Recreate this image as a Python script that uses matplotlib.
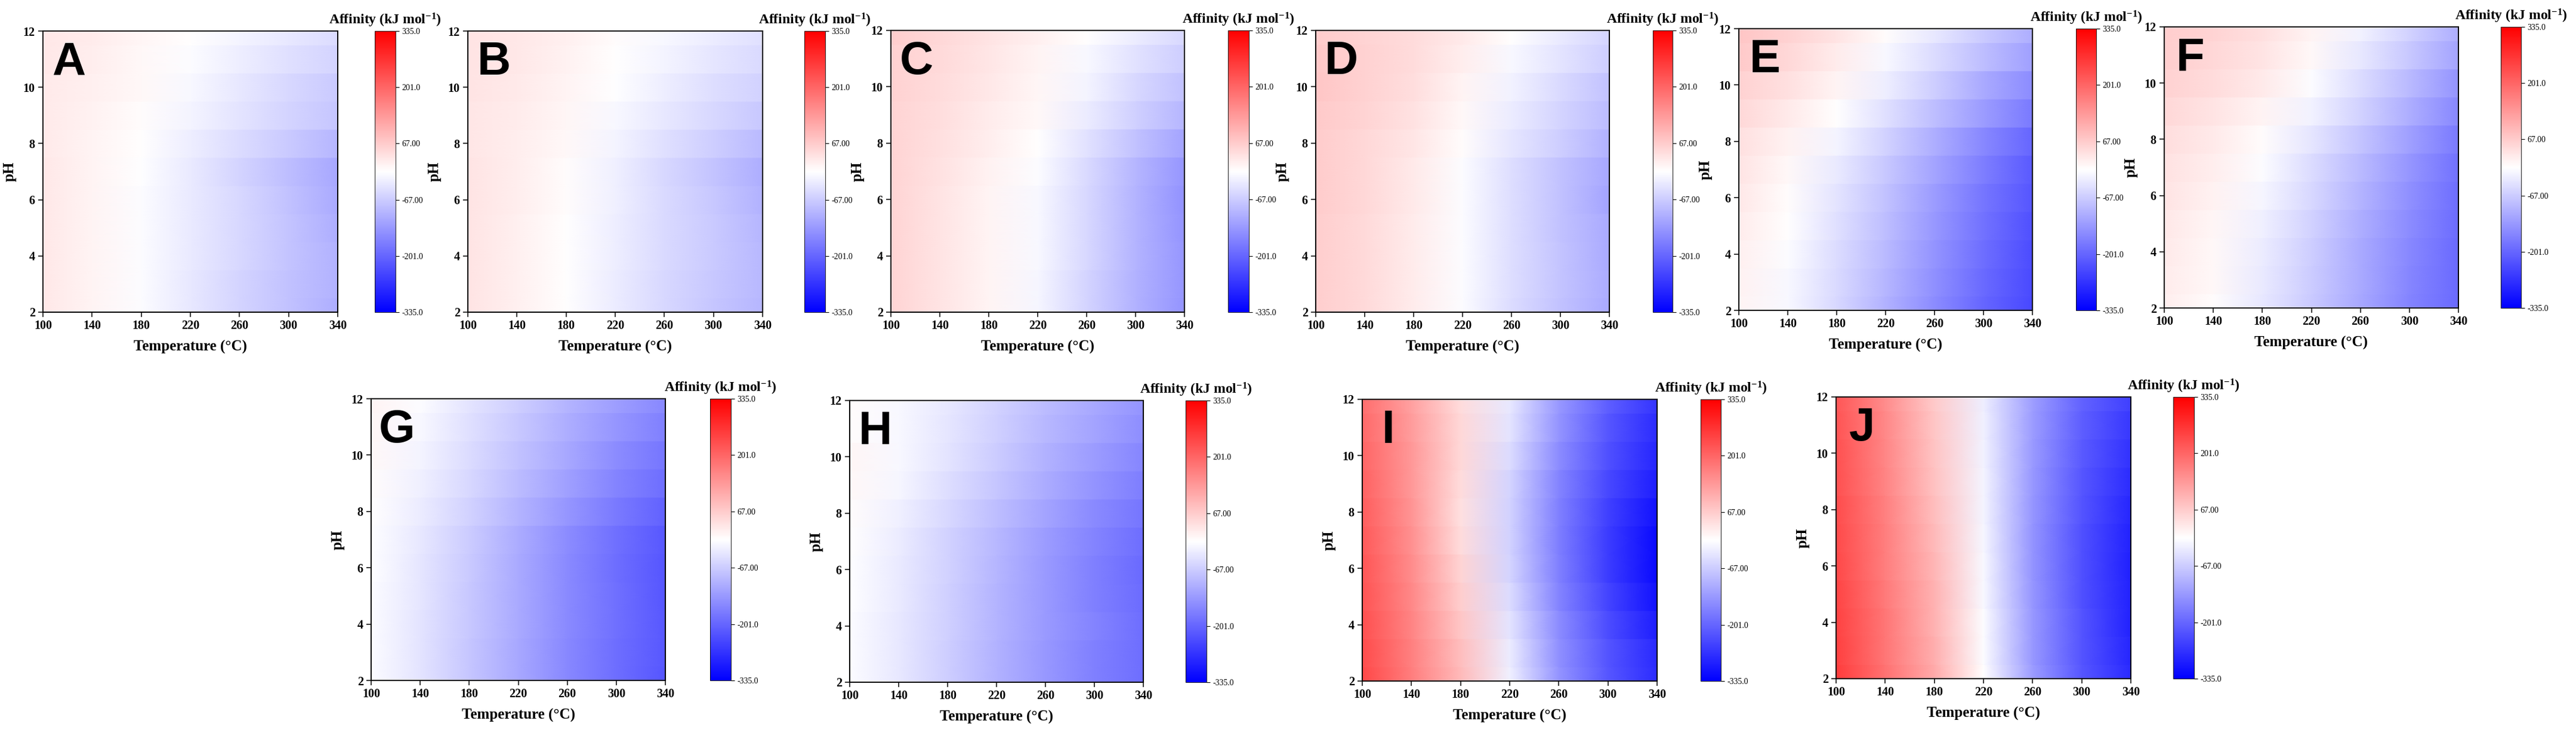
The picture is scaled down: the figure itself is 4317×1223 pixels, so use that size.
import numpy as np
import matplotlib.pyplot as plt

plt.rcParams['font.family'] = ['Liberation Serif', 'DejaVu Serif']
plt.rcParams['mathtext.fontset'] = 'custom'
plt.rcParams['mathtext.rm'] = 'Liberation Serif:bold'
plt.rcParams['mathtext.bf'] = 'Liberation Serif:bold'
plt.rcParams['mathtext.it'] = 'Liberation Serif:bold'

# grid: temperature (degC) columns, pH rows
temps = [100, 140, 180, 220, 260, 300, 340]
ph_levels = [2, 3, 4, 5, 6, 7, 8, 9, 10, 11, 12]

# affinity in kJ/mol, one row per pH (2 -> 12)
affinity_A = [
    [30, 15, -5, -30, -55, -80, -105],
    [30, 15, -5, -30, -55, -80, -100],
    [30, 15, -5, -28, -52, -78, -100],
    [30, 15, -5, -28, -52, -78, -105],
    [30, 15, -3, -28, -52, -80, -110],
    [30, 15, -2, -27, -55, -85, -115],
    [28, 15, 0, -22, -45, -70, -95],
    [28, 18, 5, -15, -35, -55, -75],
    [28, 20, 8, -10, -30, -50, -70],
    [30, 22, 10, -5, -22, -40, -55],
    [30, 25, 12, 0, -15, -30, -45],
]
affinity_B = [
    [35, 20, 0, -25, -50, -75, -95],
    [35, 20, 0, -25, -50, -72, -92],
    [35, 20, 2, -22, -48, -70, -92],
    [35, 20, 2, -22, -48, -70, -95],
    [35, 22, 3, -20, -48, -72, -100],
    [35, 22, 3, -20, -50, -78, -105],
    [33, 22, 8, -15, -40, -65, -90],
    [33, 25, 12, -8, -30, -50, -72],
    [35, 28, 15, -2, -22, -42, -60],
    [35, 30, 18, 2, -15, -32, -48],
    [35, 30, 20, 5, -10, -25, -40],
]
affinity_C = [
    [55, 35, 15, -12, -55, -100, -140],
    [55, 35, 15, -12, -55, -100, -138],
    [55, 35, 15, -10, -52, -98, -138],
    [55, 35, 15, -10, -52, -98, -140],
    [55, 35, 15, -8, -50, -98, -142],
    [55, 38, 18, -5, -48, -95, -138],
    [55, 40, 22, 2, -38, -80, -118],
    [55, 42, 25, 8, -25, -62, -95],
    [58, 45, 30, 12, -15, -50, -80],
    [60, 48, 32, 15, -8, -38, -65],
    [65, 50, 35, 20, 0, -25, -50],
]
affinity_D = [
    [65, 48, 25, -5, -45, -80, -110],
    [65, 48, 25, -5, -42, -78, -108],
    [65, 48, 25, -5, -42, -78, -110],
    [65, 48, 25, -5, -42, -80, -112],
    [68, 50, 28, -3, -42, -80, -118],
    [68, 50, 28, -3, -42, -80, -115],
    [68, 52, 32, 3, -32, -65, -100],
    [70, 55, 38, 10, -25, -55, -88],
    [75, 58, 42, 15, -18, -48, -80],
    [72, 58, 45, 22, -8, -35, -65],
    [68, 55, 45, 28, 0, -28, -55],
]
affinity_E = [
    [15, -10, -50, -100, -150, -200, -240],
    [18, -8, -48, -95, -145, -195, -238],
    [20, -5, -45, -90, -140, -190, -235],
    [25, 0, -40, -85, -135, -185, -228],
    [30, 5, -35, -80, -130, -180, -222],
    [35, 10, -28, -72, -120, -170, -215],
    [40, 18, -15, -58, -105, -155, -200],
    [50, 28, 0, -40, -85, -130, -175],
    [60, 40, 15, -22, -65, -110, -150],
    [70, 50, 25, -8, -45, -85, -125],
    [75, 58, 35, 5, -30, -70, -105],
]
affinity_F = [
    [22, 5, -30, -70, -115, -160, -195],
    [25, 8, -28, -68, -112, -158, -195],
    [28, 10, -25, -65, -110, -155, -195],
    [30, 12, -20, -60, -105, -150, -192],
    [35, 18, -12, -52, -98, -145, -190],
    [38, 22, -5, -45, -90, -138, -185],
    [42, 28, 5, -32, -78, -125, -175],
    [50, 35, 15, -18, -60, -105, -155],
    [60, 45, 28, -5, -45, -90, -140],
    [65, 52, 35, 8, -30, -72, -120],
    [65, 55, 40, 15, -18, -60, -105],
]
affinity_G = [
    [-3, -35, -75, -115, -155, -190, -220],
    [-3, -35, -75, -115, -155, -190, -218],
    [-3, -35, -72, -112, -152, -188, -218],
    [-3, -33, -72, -112, -152, -188, -220],
    [-2, -33, -70, -110, -152, -190, -222],
    [-2, -30, -68, -108, -150, -188, -218],
    [0, -25, -60, -98, -138, -175, -205],
    [3, -20, -52, -88, -125, -160, -190],
    [10, -15, -45, -80, -115, -150, -178],
    [12, -10, -40, -72, -105, -138, -165],
    [15, -5, -35, -65, -98, -128, -155],
]
affinity_H = [
    [-3, -30, -65, -100, -135, -165, -190],
    [-3, -30, -65, -100, -135, -165, -190],
    [-3, -30, -62, -98, -132, -162, -190],
    [-2, -28, -62, -98, -132, -165, -192],
    [-2, -28, -60, -96, -132, -165, -195],
    [0, -25, -58, -94, -130, -162, -190],
    [3, -20, -50, -85, -120, -152, -180],
    [10, -12, -42, -75, -108, -140, -168],
    [12, -8, -35, -68, -100, -130, -158],
    [5, -8, -32, -62, -92, -120, -148],
    [3, -8, -30, -58, -88, -115, -140],
]
affinity_I = [
    [240, 170, 90, -20, -140, -220, -275],
    [235, 165, 85, -25, -145, -225, -280],
    [230, 160, 75, -35, -150, -235, -295],
    [225, 155, 65, -45, -160, -245, -310],
    [220, 150, 55, -55, -165, -255, -320],
    [215, 145, 45, -60, -170, -255, -320],
    [210, 140, 40, -60, -165, -250, -310],
    [205, 135, 45, -55, -160, -240, -295],
    [200, 135, 50, -45, -150, -230, -285],
    [195, 130, 50, -35, -140, -220, -275],
    [190, 125, 45, -30, -135, -210, -265],
]
affinity_J = [
    [255, 185, 110, 0, -130, -220, -280],
    [250, 180, 105, -5, -135, -225, -285],
    [248, 178, 100, -5, -135, -225, -288],
    [245, 175, 100, -8, -138, -228, -290],
    [240, 170, 95, -10, -140, -230, -292],
    [238, 168, 90, -12, -140, -228, -290],
    [235, 165, 85, -15, -138, -225, -285],
    [230, 160, 80, -15, -135, -220, -275],
    [228, 158, 78, -18, -132, -215, -268],
    [225, 155, 75, -20, -130, -210, -260],
    [220, 150, 70, -22, -128, -205, -250],
]

panel_names = ['A', 'B', 'C', 'D', 'E', 'F', 'G', 'H', 'I', 'J']
panel_data = [affinity_A, affinity_B, affinity_C, affinity_D, affinity_E,
              affinity_F, affinity_G, affinity_H, affinity_I, affinity_J]

cbar_ticks = [-335, -201, -67, 67, 201, 335]
cbar_labels = ['-335.0', '-201.0', '-67.00', '67.00', '201.0', '335.0']
x_ticks = [100, 140, 180, 220, 260, 300, 340]
y_ticks = [2, 4, 6, 8, 10, 12]

# layout in pixels: axes (x0, y0, x1, y1) and colorbar (x0, x1)
W, H = 4317, 1223
layout = {
    'A': ((72, 52, 566, 523), (628, 663)),
    'B': ((784, 52, 1278, 523), (1348, 1383)),
    'C': ((1493, 51, 1985, 523), (2058, 2093)),
    'D': ((2205, 51, 2697, 523), (2770, 2803)),
    'E': ((2914, 48, 3406, 520), (3479, 3513)),
    'F': ((3627, 45, 4120, 516), (4191, 4225)),
    'G': ((622, 668, 1115, 1140), (1190, 1225)),
    'H': ((1424, 671, 1916, 1143), (1987, 2022)),
    'I': ((2283, 669, 2777, 1141), (2850, 2884)),
    'J': ((3077, 665, 3571, 1137), (3642, 3677)),
}


def rect(x0, y0, x1, y1):
    return [x0 / W, 1 - y1 / H, (x1 - x0) / W, (y1 - y0) / H]


fig = plt.figure(figsize=(W / 100, H / 100), dpi=100)

for name, data in zip(panel_names, panel_data):
    (x0, y0, x1, y1), (c0, c1) = layout[name]
    ax = fig.add_axes(rect(x0, y0, x1, y1))

    # each pH band is flat, temperature varies smoothly
    z = np.array(data, dtype=float)
    ph = np.array(ph_levels, dtype=float)
    yy = np.column_stack([ph - 0.5, ph + 0.5]).ravel()
    X, Y = np.meshgrid(temps, yy)
    C = np.repeat(z, 2, axis=0)
    mesh = ax.pcolormesh(X, Y, C, shading='gouraud', cmap='bwr',
                         vmin=-335, vmax=335, antialiased=False)

    ax.set_xlim(100, 340)
    ax.set_ylim(2, 12)
    ax.set_xticks(x_ticks)
    ax.set_yticks(y_ticks)
    ax.tick_params(direction='out', length=5.5, width=1.1, pad=4,
                   labelsize=14.5)
    for lab in ax.get_xticklabels() + ax.get_yticklabels():
        lab.set_fontweight('bold')
    for sp in ax.spines.values():
        sp.set_linewidth(1.4)
    ax.set_xlabel('Temperature (°C)', fontsize=18, fontweight='bold',
                  labelpad=10)
    ax.set_ylabel('pH', fontsize=18, fontweight='bold', labelpad=8)

    ax.text(0.088, 0.845, name, transform=ax.transAxes, ha='center',
            va='baseline', fontsize=56, fontweight='bold',
            family='Liberation Sans')

    cax = fig.add_axes(rect(c0, y0, c1, y1))
    cb = fig.colorbar(mesh, cax=cax, ticks=cbar_ticks)
    cb.ax.set_yticklabels(cbar_labels)
    cb.ax.tick_params(length=4, width=0.8, labelsize=10)
    cb.outline.set_linewidth(0.6)
    cax.set_title('Affinity (kJ mol$^{-1}$)', fontsize=17,
                  fontweight='bold', pad=8)

fig.savefig('out.png', dpi=100)
